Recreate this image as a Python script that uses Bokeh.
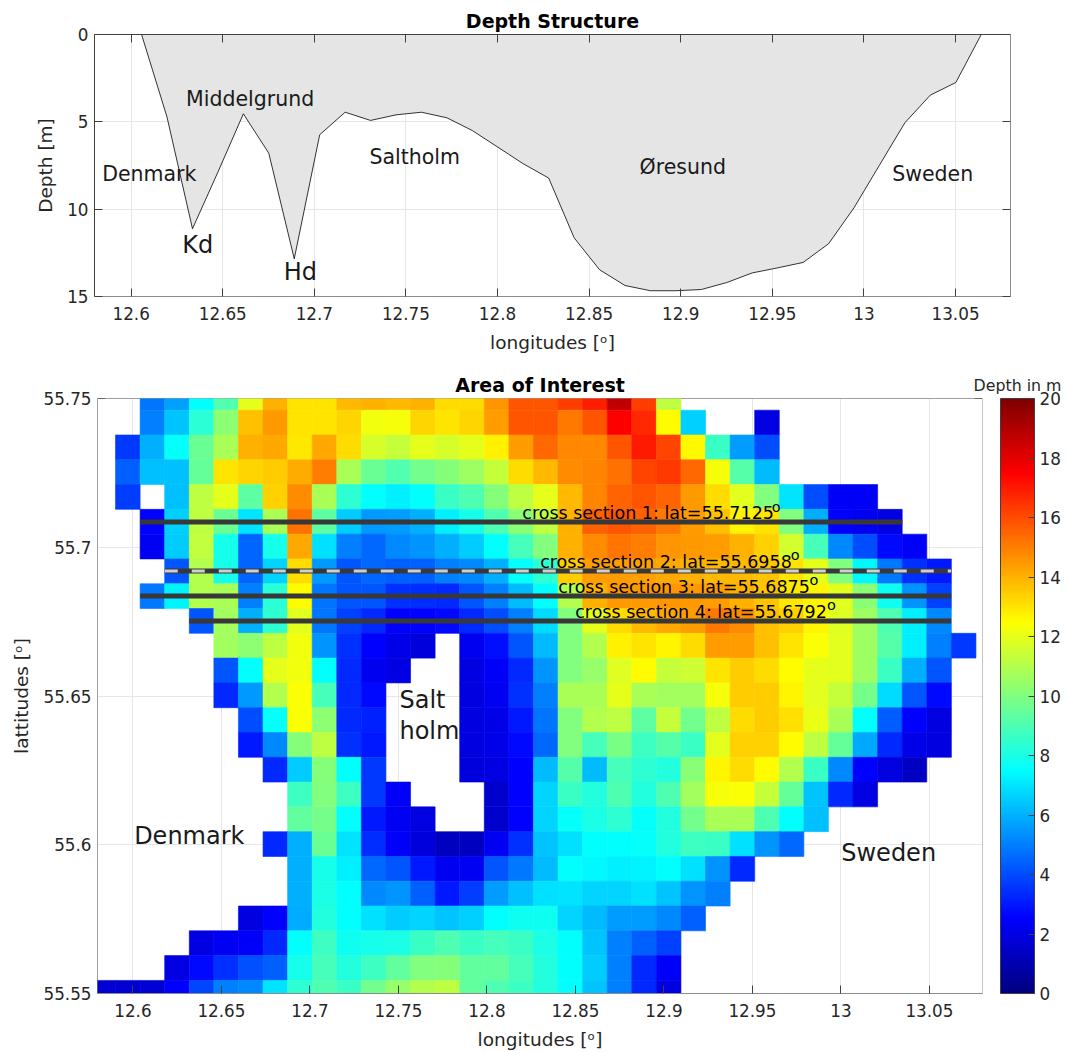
from bokeh.plotting import figure
from bokeh.layouts import column, row
from bokeh.models import (Range1d, LinearAxis, FixedTicker, ColumnDataSource, LinearColorMapper,
                          ColorBar, Title)
from bokeh.core.properties import value
from bokeh.embed import file_html
from bokeh.resources import INLINE

N = None

# ---------- data ----------
lon_ticks = [12.6, 12.65, 12.7, 12.75, 12.8, 12.85, 12.9, 12.95, 13.0, 13.05]
lon_tick_labels = ["12.6", "12.65", "12.7", "12.75", "12.8", "12.85", "12.9", "12.95", "13", "13.05"]
depth_ticks = [0, 5, 10, 15]
lat_ticks = [55.55, 55.6, 55.65, 55.7, 55.75]
lat_tick_labels = ["55.55", "55.6", "55.65", "55.7", "55.75"]
cbar_ticks = [0, 2, 4, 6, 8, 10, 12, 14, 16, 18, 20]

profile_first_lon = 12.6057
cell_lon = 1 / 72
cell_lat = 1 / 120
profile_depth = [0, 4.73, 11.12, 7.88, 4.54, 6.8, 12.84, 5.74, 4.45, 4.92, 4.6, 4.45, 4.77, 5.5, 6.45, 7.4,
                 8.22, 11.64, 13.47, 14.37, 14.67, 14.67, 14.6, 14.2, 13.65, 13.36, 13.05, 11.98, 9.92,
                 7.48, 5.05, 3.47, 2.75, 0]

grid_first_lon = 12.5763
grid_top_lat = 55.7544
row_start = [2, 2, 1, 1, 1, 2, 2, 3, 2, 4, 5, 5, 5, 6, 6, 7, 8, 8, 7, 8, 8, 6, 4, 3, 0]
row_values = [
    [4.8, 5.7, 7.5, 9.1, 12, 14, 13, 13, 13.9, 14, 13.9, 14, 13.2, 13.2, 14.6, 15.8, 15.8, 16.3, 16.9, 18.7, 16.3, 11.2],
    [5, 6.4, 8.3, 10.3, 13.7, 14.5, 13, 13, 13.3, 12.2, 12.3, 13.3, 13, 13.3, 14.4, 15.8, 15.8, 15.1, 15.8, 17.5, 16.7, 12.5, 6.6, N, N, 2],
    [3.6, 6, 7.6, 9.6, 10.8, 14, 14.2, 12.9, 14.2, 13.2, 11.7, 11.4, 12, 11.7, 12, 12.8, 14.4, 15.4, 14.8, 14.8, 15.8, 17, 16.1, 12.6, 8.6, 5.6, 4],
    [4.4, 6.3, 6.3, 9.5, 13, 13.3, 13.5, 14.1, 15, 10.8, 9.6, 9.1, 9.7, 10.1, 10.6, 11.4, 13.2, 13.9, 14.7, 14.9, 15.3, 16.1, 16.4, 15.4, 12.3, 9.2, 6.2],
    [3.7, N, 6.3, 11.2, 12, 9.3, 13.4, 14.7, 10.8, 8.4, 7.5, 7.2, 7.5, 8.6, 9, 10.1, 11.2, 12, 13.9, 14.9, 15.5, 15.8, 15.5, 14.5, 13.2, 11.9, 10, 7, 4, 2.4, 2.4],
    [2.5, 6.6, 11.2, 9.6, 7, 10.8, 15.3, 9.3, 6.5, 5.5, 5.6, 6, 7.2, 7.9, 9, 10.2, 11.2, 14, 15.6, 15.8, 15.6, 15.1, 14.4, 13.7, 12.7, 13, 10, 6, 2.5, 2.2, 2],
    [2.3, 6.5, 11.3, 7.9, 4.5, 7.9, 14.2, 6.9, 5, 4.6, 5.2, 5.4, 6, 6.5, 7.5, 8.9, 10, 14, 14.7, 15.2, 15, 14.6, 14.5, 14.4, 14, 13.4, 11.6, 8.9, 5.2, 4, 2.7, 2.4],
    [4.2, 11, 7.9, 4.5, 6.7, 13.2, 5.5, 4.2, 4.6, 4.4, 4.4, 5, 5.2, 6, 7.6, 8.4, 13.5, 14.4, 14.4, 14.3, 14.2, 14, 13.9, 13.9, 13.6, 13, 12, 10, 7.4, 4.9, 3.5, 3],
    [4.9, 7.3, 11, 10.8, 5, 8.3, 12.5, 4.8, 4.2, 4.2, 3.5, 3.4, 3.3, 4.2, 5, 6.2, 7.5, 11, 14, 14.5, 14.5, 14.6, 14.5, 14.4, 14, 13.6, 12.9, 12.7, 11.9, 10.2, 7.8, 5.4, 3.8],
    [4.2, 10.7, 6, 8.4, 11.9, 4.8, 3.8, 3.3, 2.5, 2.5, 2.7, 3.3, 4, 5, 6.8, 10, 12, 13.2, 13.9, 14.2, 14.4, 15.1, 14.7, 13.7, 13.4, 12.7, 11.8, 10.6, 9, 7.2, 5.2],
    [10.7, 10.3, 11.2, 12.2, 5.4, 3.5, 2.5, 2.1, 1.8, N, 2.2, 2.8, 4.2, 6.2, 10, 11, 12.8, 13, 12.7, 13.2, 14.4, 14.4, 13.7, 13, 12.4, 11.9, 10.6, 9.2, 7.2, 5, 3.6],
    [4.2, 7.5, 12, 12.2, 7.5, 3.3, 2.2, 2, N, N, 2, 2.4, 3.3, 5.4, 10, 10.4, 11.8, 12.5, 11.4, 11.5, 13, 13.5, 13.2, 12.5, 12, 11.9, 10.6, 8.6, 6, 4.2],
    [3.3, 5.5, 11, 12.4, 8.9, 3.3, 2.7, N, N, N, 1.9, 2.3, 3.5, 5, 10.8, 10.8, 12, 10.8, 10.7, 10.7, 12.3, 13.5, 13.5, 12.7, 11.9, 11.4, 9.8, 6.8, 4.2, 2.7],
    [4, 7.6, 12.4, 10.3, 3.3, 3.2, N, N, N, 1.9, 2.1, 3, 4.8, 10, 11, 11.2, 9.3, 11.4, 9.7, 11.2, 13.2, 13.5, 13.1, 12.1, 10.8, 7.5, 4.3, 2.5, 1.9],
    [3, 5.2, 10.1, 11.2, 3.5, 3, N, N, N, 1.9, 2.1, 2.7, 4.6, 10, 8.9, 9.9, 8.7, 9.2, 8.6, 11.9, 13.4, 13.4, 12.5, 11.2, 9.5, 5.8, 3.3, 2.1, 1.9],
    [3.3, 6.5, 10.1, 7.5, 3.6, N, N, N, 1.8, 2, 2.5, 6.2, 9.2, 6.2, 8.9, 8.4, 8.2, 10.2, 12.7, 13.2, 12.5, 11, 8.6, 5.2, 2.5, 1.9, 1.4],
    [8.7, 10, 8.7, 3.6, 2.4, N, N, N, 1.5, 2.5, 6.7, 8.6, 8.2, 9, 8.2, 9, 10.7, 12.3, 12.4, 11.4, 9.5, 6.4, 3.3, 2],
    [9.4, 9.8, 7.5, 3, 2.3, 1.9, N, N, 1.5, 2.5, 6.7, 7.6, 8, 8.4, 7.6, 8.2, 9.7, 10.8, 10.8, 9, 7.5, 6.3],
    [3.3, 6, 9.6, 7, 3.4, 2.4, 1.8, 1.3, 1.3, 2.3, 3.5, 6.4, 6.9, 7.5, 7.5, 7.6, 8.2, 8.7, 8.6, 6.9, 5.4, 4.6],
    [6, 7.9, 7.2, 4.6, 4.2, 3, 2.2, 2.3, 4.2, 4.9, 6.2, 7.5, 7.4, 7.2, 7.3, 7.5, 6.9, 5.4, 3.3],
    [6, 8, 7.5, 5.2, 5.4, 4.4, 3, 3.7, 5.6, 6.3, 6.9, 7, 6.7, 6.7, 6.9, 6.4, 5.4, 5],
    [1.9, 2.5, 5.9, 8.2, 7.5, 6.9, 6.5, 6.7, 6.4, 6.6, 7.5, 7.8, 7.8, 6.7, 6.2, 5.6, 5.6, 5.2, 4.4],
    [2, 2.3, 2.4, 3.3, 7.5, 8.7, 7.8, 7.9, 8, 8.6, 9, 8.6, 8.9, 8.6, 8, 7.5, 6.4, 5, 4.4, 3.8],
    [2, 2.7, 3.5, 4.1, 4.4, 7.9, 8.9, 8.2, 8.7, 9.4, 10, 10.1, 9.4, 9.4, 8.9, 8.2, 7.5, 6.5, 5, 3.3, 2.4],
    [1.7, 1.7, 1.7, 2.5, 3.9, 5, 5.2, 7, 8.4, 9, 8.6, 9.7, 10.4, 11, 11.2, 9.4, 9, 8.7, 8.2, 7.5, 6.4, 5, 3.3, 2],
]

section_lat = [55.7085, 55.6920, 55.6836, 55.6752]
section_lon0 = [12.6041, 12.6180, 12.6041, 12.6318]
section_lon1 = [13.0347, 13.0623, 13.0623, 13.0623]
section_text = ["cross section 1: lat=55.7125", "cross section 2: lat=55.6958",
                "cross section 3: lat=55.6875", "cross section 4: lat=55.6792"]
section_text_lon = [12.82, 12.8301, 12.8403, 12.8499]
section_text_lat = [55.7114, 55.6950, 55.6866, 55.6782]
section_deg_lon = [12.961, 12.9716, 12.9823, 12.9921]
section_deg_lat = [55.7136, 55.6973, 55.6889, 55.6805]

top_names = ["Denmark", "Middelgrund", "Saltholm", "Øresund", "Sweden"]
top_names_lon = [12.5842, 12.63, 12.7301, 12.8775, 13.0154]
top_names_depth = [7.96, 3.72, 7.04, 7.56, 7.96]
deep_names = ["Kd", "Hd"]
deep_names_lon = [12.6279, 12.6833]
deep_names_depth = [12.08, 13.57]
map_names = ["Denmark", "Sweden", "Salt", "holm"]
map_names_lon = [12.6007, 13.0002, 12.7506, 12.7506]
map_names_lat = [55.6028, 55.5971, 55.6485, 55.6384]


def jet(n=256):
    out = []
    for i in range(n):
        v = i / (n - 1)
        r = min(max(min(4 * v - 1.5, -4 * v + 4.5), 0), 1)
        g = min(max(min(4 * v - 0.5, -4 * v + 3.5), 0), 1)
        b = min(max(min(4 * v + 0.5, -4 * v + 2.5), 0), 1)
        out.append("#%02x%02x%02x" % (round(r * 255), round(g * 255), round(b * 255)))
    return out


FONT = "DejaVu Sans"
INK = "#262626"
TICK_PX = "16.8px"
LABEL_PX = "18.5px"
GRID = "#e6e6e6"
DARK = "#404040"
GREY = "#8c8c8c"


def tick_axis(ax, ticks, col, tick):
    ax.ticker = FixedTicker(ticks=ticks)
    ax.major_tick_in = tick
    ax.major_tick_out = 0
    ax.minor_tick_line_color = None
    ax.axis_line_color = col
    ax.major_tick_line_color = DARK
    ax.major_label_text_font_size = "0px"
    ax.major_label_standoff = 0
    ax.major_label_text_color = None


def label_axis(ax, ticks, labels, name, st, lst):
    ax.ticker = FixedTicker(ticks=ticks)
    ax.major_label_overrides = dict(zip(ticks, labels))
    ax.minor_tick_line_color = None
    ax.major_label_text_font = FONT
    ax.major_label_text_font_size = TICK_PX
    ax.major_label_text_color = INK
    ax.axis_label = name
    ax.axis_label_text_font = FONT
    ax.axis_label_text_font_size = LABEL_PX
    ax.axis_label_text_font_style = "normal"
    ax.axis_label_text_color = INK
    ax.major_label_standoff = st
    ax.axis_label_standoff = lst


def dress(p, xticks, xlabels, yticks, ylabels, xname, yname, tick, under=False):
    p.outline_line_color = None
    p.xgrid.ticker = FixedTicker(ticks=xticks)
    p.ygrid.ticker = FixedTicker(ticks=yticks)
    p.xgrid.grid_line_color = GRID
    p.ygrid.grid_line_color = GRID
    # the default axes only draw the line and the inward ticks
    tick_axis(p.xaxis[0], xticks, GREY, tick)
    tick_axis(p.yaxis[0], yticks, DARK, tick)
    top_ax, right_ax = LinearAxis(), LinearAxis()
    tick_axis(top_ax, xticks, DARK, tick)
    tick_axis(right_ax, yticks, GREY, tick)
    p.add_layout(top_ax, "above")
    p.add_layout(right_ax, "right")
    if under:
        for ax in (p.xaxis[0], p.yaxis[0], top_ax, right_ax):
            ax.level = "underlay"
    # separate axes carry the numbers and the names
    for side, ticks, labels, name, st, lst in (("below", xticks, xlabels, xname, 10, 9),
                                               ("left", yticks, ylabels, yname, 6, 8)):
        ax = LinearAxis(axis_line_color=None, major_tick_line_color=None, major_tick_in=0, major_tick_out=0)
        label_axis(ax, ticks, labels, name, st, lst)
        p.add_layout(ax, side)


# ---------- top panel ----------
p1 = figure(width=1067, height=358, output_backend="svg", toolbar_location=None, frame_align=False,
            x_range=Range1d(12.58, 13.08), y_range=Range1d(15, 0),
            min_border_left=94, min_border_right=57, min_border_top=34, min_border_bottom=62)
p1.title = Title(text="Depth Structure", align="center", text_font=FONT, text_font_size="19px",
                 text_font_style="bold", text_color="#000000", standoff=5, offset=0)
dress(p1, lon_ticks, lon_tick_labels, depth_ticks, ["0", "5", "10", "15"],
      "longitudes [ᵒ]", "Depth [m]", 8)
prof_lon = [profile_first_lon + i * cell_lon for i in range(len(profile_depth))]
src = ColumnDataSource(dict(x=prof_lon, d=profile_depth, z=[0] * len(profile_depth)))
p1.varea(x="x", y1="z", y2="d", source=src, fill_color="#e5e5e5")
p1.line(x="x", y="d", source=src, line_color="#000000", line_width=0.8)
p1.text(x=top_names_lon, y=top_names_depth, text=top_names, text_font=value(FONT), text_font_size="20.5px",
        text_color="#1a1a1a", text_align="left", text_baseline="middle")
p1.text(x=deep_names_lon, y=deep_names_depth, text=deep_names, text_font=value(FONT), text_font_size="24px",
        text_color="#1a1a1a", text_align="left", text_baseline="middle")

# ---------- map ----------
p2 = figure(width=985, height=694, output_backend="svg", toolbar_location=None, frame_align=False,
            x_range=Range1d(12.58, 13.08), y_range=Range1d(55.55, 55.75),
            min_border_left=97, min_border_right=3, min_border_top=40, min_border_bottom=59,
            border_fill_color=None, background_fill_color=None)
p2.title = Title(text="Area of Interest", align="center", text_font=FONT, text_font_size="19px",
                 text_font_style="bold", text_color="#000000", standoff=6, offset=0)
dress(p2, lon_ticks, lon_tick_labels, lat_ticks, lat_tick_labels,
      "longitudes [ᵒ]", "lattitudes [ᵒ]", 8, under=True)

left, right, top, bottom, val = [], [], [], [], []
for r, (start, vals) in enumerate(zip(row_start, row_values)):
    for c, v in enumerate(vals):
        if v is None:
            continue
        k = start + c
        left.append(grid_first_lon + k * cell_lon)
        right.append(grid_first_lon + (k + 1) * cell_lon)
        top.append(grid_top_lat - r * cell_lat)
        bottom.append(grid_top_lat - (r + 1) * cell_lat)
        val.append(v)
mapper = LinearColorMapper(palette=jet(), low=0, high=20)
cells = ColumnDataSource(dict(left=left, right=right, top=top, bottom=bottom, val=val))
p2.quad(left="left", right="right", top="top", bottom="bottom", source=cells,
        fill_color={"field": "val", "transform": mapper},
        line_color={"field": "val", "transform": mapper}, line_width=0.6)

for i in range(4):
    p2.line(x=[section_lon0[i], section_lon1[i]], y=[section_lat[i], section_lat[i]],
            line_color="#383838", line_width=5)
p2.line(x=[section_lon0[1], section_lon1[1]], y=[section_lat[1], section_lat[1]],
        line_color="#cfcfcf", line_width=3, line_dash="13 14")
p2.text(x=section_text_lon, y=section_text_lat, text=section_text, text_font=value(FONT),
        text_font_size="17.5px", text_color="#000000", text_align="left", text_baseline="middle")
p2.text(x=section_deg_lon, y=section_deg_lat, text=["o"] * 4, text_font=value(FONT),
        text_font_size="14.5px", text_color="#000000", text_align="left", text_baseline="middle")
p2.text(x=map_names_lon, y=map_names_lat, text=map_names, text_font=value(FONT), text_font_size="24px",
        text_color="#1a1a1a", text_align="left", text_baseline="middle")

# ---------- colour bar, in a narrow figure of its own that overlaps the map's right margin ----------
p3 = figure(width=97, height=694, output_backend="svg", toolbar_location=None, frame_align=False,
            x_range=Range1d(0, 1), y_range=Range1d(0, 20),
            min_border_left=30, min_border_right=33, min_border_top=40, min_border_bottom=59,
            border_fill_color=None, background_fill_color=None, margin=(0, 0, 0, -15))
p3.title = Title(text="Depth in m", align="center", text_font=FONT, text_font_size="15.8px",
                 text_font_style="normal", text_color=INK, standoff=8, offset=0)
p3.outline_line_color = None
p3.xaxis.visible = False
p3.yaxis.visible = False
p3.xgrid.visible = False
p3.ygrid.visible = False
cb = ColorBar(color_mapper=mapper, ticker=FixedTicker(ticks=cbar_ticks), location=(0, 0), width=34, height=595,
              padding=0, margin=0,
              major_label_text_font=FONT, major_label_text_font_size=TICK_PX, major_label_text_color=INK,
              major_tick_in=6, major_tick_line_color=DARK, bar_line_color=DARK, bar_line_width=1,
              minor_tick_line_color=None, label_standoff=5, background_fill_color=None,
              border_line_color=None)
p3.add_layout(cb)

page = column(p1, row(p2, p3, spacing=0), spacing=0)
open("out.html", "w").write(file_html(page, INLINE))
